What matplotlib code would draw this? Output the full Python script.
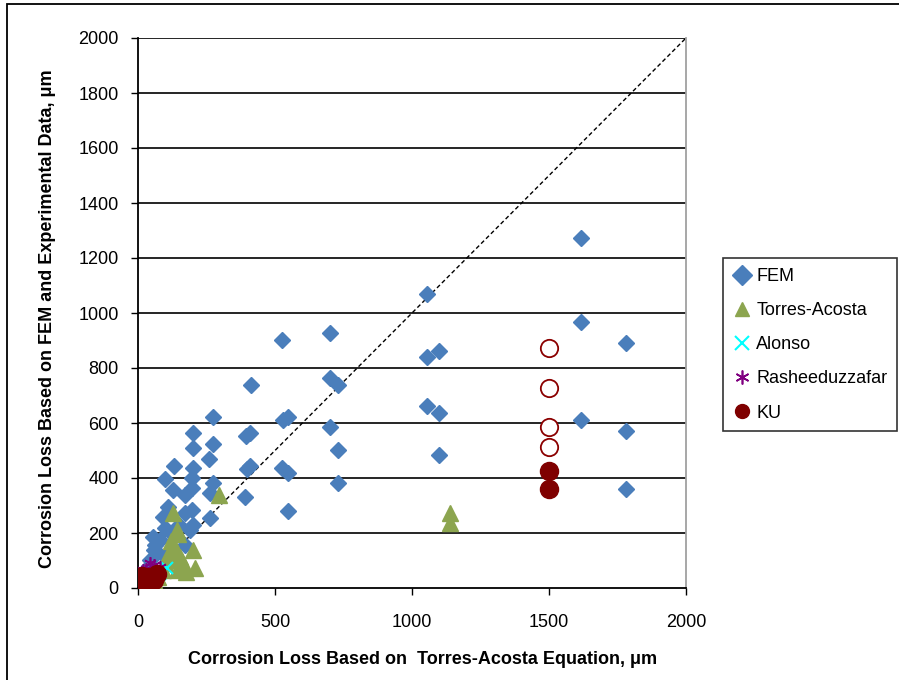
import matplotlib
matplotlib.use("Agg")
import matplotlib.pyplot as plt
from matplotlib.patches import Rectangle

plt.rcParams['font.family'] = ['Liberation Sans Narrow', 'Liberation Sans', 'DejaVu Sans']

fem_x = [1617, 1617, 1617, 1781, 1781, 1781,
         1054, 1054, 1099, 1054, 1099, 1099,
         701, 701, 731, 701, 731, 731,
         526, 411, 528, 549, 524, 549, 549,
         394, 409, 397, 409, 391,
         272, 272, 260, 272, 263, 263,
         202, 199, 202, 196, 196, 196, 202, 190, 172, 172, 172,
         131, 99, 129, 111, 92, 56, 80, 62, 99, 44,
         30, 70, 120, 150, 100, 60, 40]
fem_y = [1273, 968, 611, 892, 571, 361,
         1069, 839, 863, 662, 635, 484,
         928, 762, 738, 587, 502, 383,
         902, 738, 611, 623, 435, 417, 280,
         553, 563, 432, 444, 332,
         621, 524, 470, 383, 344, 253,
         563, 508, 435, 399, 363, 284, 229, 211, 338, 272, 156,
         444, 395, 356, 296, 259, 187, 175, 156, 114, 102,
         60, 130, 200, 230, 220, 140, 80]

ta_x = [296, 1139, 1139, 129, 141, 146, 129, 202, 153, 129, 208, 165, 141, 74, 92, 177,
        110, 120, 100, 60, 40, 140, 160]
ta_y = [338, 272, 235, 272, 211, 195, 150, 138, 114, 102, 72, 78, 65, 41, 65, 60,
        120, 170, 90, 30, 20, 140, 100]

alonso_x = [105, 60, 30, 20, 80, 40]
alonso_y = [72, 40, 20, 10, 50, 30]

rash_x = [44, 80, 19, 1, 30, 60, 10, 50]
rash_y = [90, 78, 65, 53, 70, 85, 40, 60]

ku_x = [1500, 1500, 10, 20, 30, 40, 50, 15, 60, 5, 25, 70]
ku_y = [425, 359, 10, 30, 20, 40, 25, 45, 30, 5, 5, 50]

ku_open_x = [1500, 1500, 1500, 1500]
ku_open_y = [874, 728, 587, 512]

line_x = [0, 2000]
line_y = [0, 2000]

xticks = [0, 500, 1000, 1500, 2000]
yticks = list(range(0, 2001, 200))

fig = plt.figure(figsize=(8.99, 6.80), dpi=100)
ax = fig.add_axes([138/899, 1-588/680, (686-138)/899, (588-38)/680])

for yv in yticks[1:]:
    ax.axhline(yv, color='black', lw=1.2, zorder=1)

ax.plot(line_x, line_y, color='black', lw=1.0, ls=(0, (3, 2)), zorder=2)

ax.plot(fem_x, fem_y, ls='none', marker='D', ms=8, color='#4A7EBB', mec='#4A7EBB', label='FEM', zorder=3)
ax.plot(ta_x, ta_y, ls='none', marker='^', ms=11, color='#8CA54F', mec='#8CA54F', label='Torres-Acosta', zorder=4)
ax.plot(alonso_x, alonso_y, ls='none', marker='x', ms=9, mew=1.5, color='#00FFFF', label='Alonso', zorder=5)
ax.plot(rash_x, rash_y, ls='none', marker=(6, 2, 0), ms=9, mew=1.2, color='#800080', label='Rasheeduzzafar', zorder=6)
ax.plot(ku_x, ku_y, ls='none', marker='o', ms=13, color='#7F0000', mec='#7F0000', label='KU', zorder=7)
ax.plot(ku_open_x, ku_open_y, ls='none', marker='o', ms=12.5, mfc='white', mec='#8B0000', mew=1.3, zorder=7)

ax.set_xlim(0, 2000)
ax.set_ylim(0, 2000)
ax.set_xticks(xticks)
ax.set_yticks(yticks)
ax.tick_params(axis='both', direction='out', length=5, width=1, labelsize=13, colors='black')
ax.tick_params(axis='x', pad=14)
ax.tick_params(axis='y', pad=9)

ax.spines['left'].set_color('black')
ax.spines['left'].set_linewidth(1.3)
ax.spines['bottom'].set_color('black')
ax.spines['bottom'].set_linewidth(1.3)
ax.spines['right'].set_color('#A0A0A0')
ax.spines['right'].set_linewidth(1.3)
ax.spines['top'].set_visible(False)

ax.set_xlabel('Corrosion Loss Based on  Torres-Acosta Equation, μm', fontsize=13, fontweight='bold', labelpad=14)
ax.set_ylabel('Corrosion Loss Based on FEM and Experimental Data, μm', fontsize=13, fontweight='bold', labelpad=16)
ax.xaxis.label.set_x(0.52)
ax.yaxis.label.set_y(0.49)

leg = fig.legend(loc='upper left', bbox_to_anchor=(723/899, 1-258/680), fontsize=13,
                 frameon=True, fancybox=False, edgecolor='black', borderpad=0.55,
                 labelspacing=0.95, handlelength=1.0, handletextpad=0.3, borderaxespad=0)
leg.get_frame().set_linewidth(1.2)
for h in leg.legend_handles:
    h.set_markersize(10)

fig.patches.append(Rectangle((7/899, -0.05), 1.1, 1 - 3.5/680 + 0.05, transform=fig.transFigure,
                             fill=False, edgecolor='black', lw=1.3))

fig.savefig('out.png', dpi=100)
